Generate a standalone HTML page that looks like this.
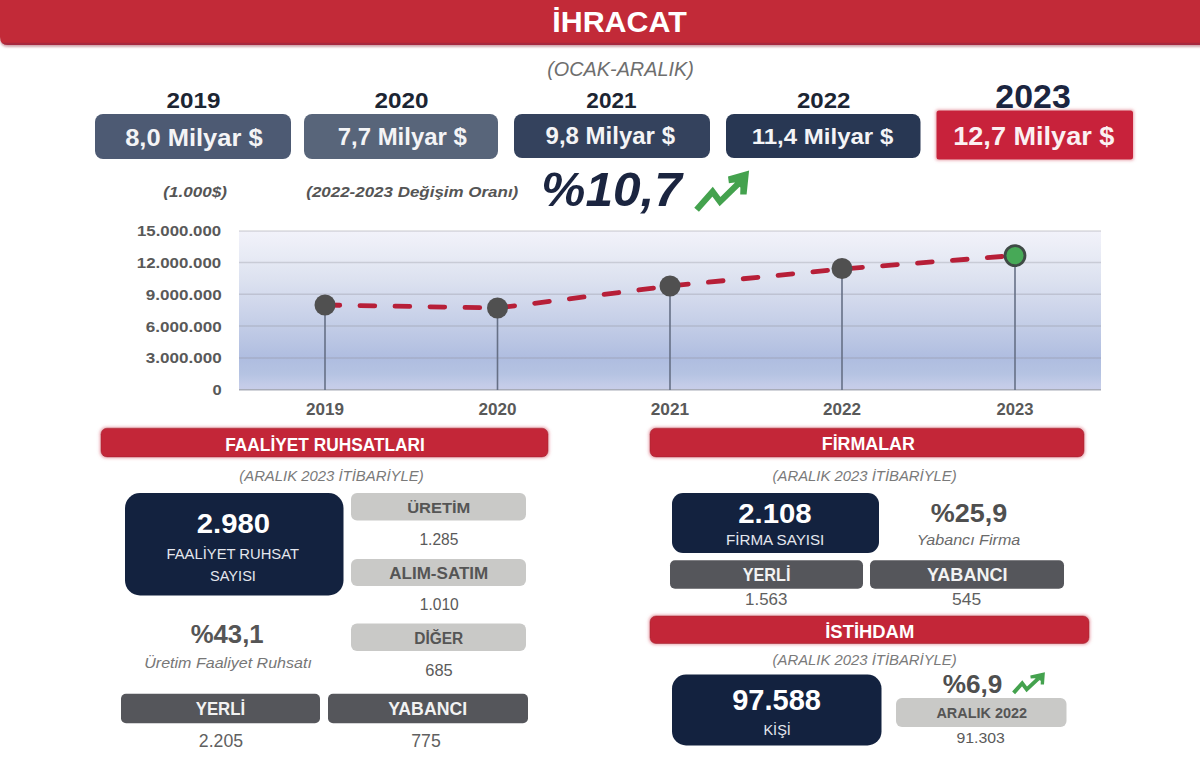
<!DOCTYPE html>
<html>
<head>
<meta charset="utf-8">
<style>
html,body{margin:0;padding:0;background:#fff;width:1200px;height:768px;overflow:hidden;}
svg{display:block;font-family:"Liberation Sans",sans-serif;}
</style>
</head>
<body>
<svg width="1200" height="768" viewBox="0 0 1200 768">
<defs>
  <linearGradient id="plotg" x1="0" y1="0" x2="0" y2="1">
    <stop offset="0" stop-color="#f2f2fa"/>
    <stop offset="0.15" stop-color="#e8ebf5"/>
    <stop offset="0.30" stop-color="#dde2f0"/>
    <stop offset="0.50" stop-color="#ccd4ea"/>
    <stop offset="0.70" stop-color="#b9c5e3"/>
    <stop offset="0.80" stop-color="#afbde0"/>
    <stop offset="0.90" stop-color="#b5c3e2"/>
    <stop offset="0.97" stop-color="#c4cce8"/>
    <stop offset="1" stop-color="#c8cde8"/>
  </linearGradient>
  <filter id="hdrsh" x="-1%" y="-20%" width="102%" height="160%">
    <feGaussianBlur in="SourceAlpha" stdDeviation="1.3"/>
    <feOffset dy="1.8" result="o"/>
    <feFlood flood-color="#a04858" flood-opacity="0.5"/>
    <feComposite operator="in" in2="o"/>
    <feMerge><feMergeNode/><feMergeNode in="SourceGraphic"/></feMerge>
  </filter>
  <clipPath id="hclip"><path d="M-10 -10 H1210 V45 H8 Q0 45 0 37 Z"/></clipPath>
  <filter id="rsh" x="-10%" y="-40%" width="120%" height="180%">
    <feMorphology in="SourceAlpha" operator="dilate" radius="1" result="d"/>
    <feGaussianBlur in="d" stdDeviation="1.4" result="bl"/>
    <feFlood flood-color="#d86070" flood-opacity="0.55"/>
    <feComposite operator="in" in2="bl"/>
    <feMerge><feMergeNode/><feMergeNode in="SourceGraphic"/></feMerge>
  </filter>
</defs>

<!-- HEADER -->
<path d="M-10 -10 H1210 V45 H8 Q0 45 0 37 Z" fill="#c22a39" filter="url(#hdrsh)"/>
<rect clip-path="url(#hclip)" x="0" y="42.8" width="1200" height="2.2" fill="#9c2a42" opacity="0.75"/>

<!-- YEAR BOXES -->
<rect x="95" y="114" width="196" height="45" rx="8" fill="#4d5a73"/>
<rect x="304" y="114" width="194" height="45" rx="8" fill="#58657a"/>
<rect x="514" y="114" width="196" height="44" rx="8" fill="#34425d"/>
<rect x="726" y="114" width="194.5" height="44" rx="8" fill="#283753"/>
<rect x="936.5" y="110.5" width="196.5" height="49" rx="2.5" fill="#c8233a" filter="url(#rsh)"/>

<!-- ARROW 1 -->
<polyline points="696.6,209.8 712.6,191.6 720,201.6 738.5,183.5" fill="none" stroke="#44a24e" stroke-width="6.2" stroke-linejoin="miter"/>
<polygon points="728,176.4 749.1,170.6 746.6,194.6 740.2,194.6 740.4,187.5 734.5,182.5 728.9,183.2" fill="#44a24e"/>

<!-- CHART -->
<rect x="239" y="231" width="862" height="159" fill="url(#plotg)"/>
<g stroke="#8f8f99" stroke-opacity="0.32" stroke-width="1.5">
  <line x1="239" y1="231" x2="1101" y2="231"/>
  <line x1="239" y1="262.5" x2="1101" y2="262.5"/>
  <line x1="239" y1="294.3" x2="1101" y2="294.3"/>
  <line x1="239" y1="326.1" x2="1101" y2="326.1"/>
  <line x1="239" y1="357.9" x2="1101" y2="357.9"/>
</g>
<line x1="239" y1="389.8" x2="1101" y2="389.8" stroke="#a8acb8" stroke-width="1.5"/>
<g stroke="#667086" stroke-width="1.6">
  <line x1="325" y1="305" x2="325" y2="390"/>
  <line x1="497.5" y1="308" x2="497.5" y2="390"/>
  <line x1="670" y1="286" x2="670" y2="390"/>
  <line x1="842" y1="269" x2="842" y2="390"/>
  <line x1="1015" y1="256" x2="1015" y2="390"/>
</g>
<polyline points="325,305 497.5,308 670,286 842,269 1015,255.5" fill="none" stroke="#b71f38" stroke-width="4.8" stroke-dasharray="14.75 20.25" stroke-linecap="round"/>
<g fill="#505050">
  <circle cx="325" cy="305" r="10.5"/>
  <circle cx="497.5" cy="308" r="10.5"/>
  <circle cx="670" cy="286" r="10.5"/>
  <circle cx="842" cy="268.5" r="10.5"/>
</g>
<circle cx="1015" cy="255.6" r="10" fill="#47a957" stroke="#3f4a46" stroke-width="2.8"/>

<!-- SECTION BARS -->
<g filter="url(#rsh)" stroke="#a01f2d" stroke-opacity="0.55" stroke-width="1">
  <rect x="101" y="428.2" width="447" height="28.7" rx="6" fill="#c32838"/>
  <rect x="650" y="428.2" width="434" height="28.7" rx="6" fill="#c32838"/>
  <rect x="650" y="616" width="439" height="27.5" rx="6" fill="#c32838"/>
</g>

<!-- LEFT PANEL -->
<rect x="125" y="493" width="218.5" height="102.5" rx="15" fill="#13223f"/>
<g fill="#c9c9c7">
  <rect x="351" y="493" width="175" height="27.5" rx="6"/>
  <rect x="351" y="559" width="175" height="27" rx="6"/>
  <rect x="351" y="623.5" width="175" height="27.5" rx="6"/>
</g>
<g fill="#55565b">
  <rect x="121" y="693.7" width="199" height="29.5" rx="5"/>
  <rect x="328" y="693.7" width="200" height="29.5" rx="5"/>
</g>

<!-- RIGHT PANEL -->
<rect x="672" y="493" width="207" height="60" rx="11" fill="#13223f"/>
<g fill="#55565b">
  <rect x="670" y="560.2" width="193" height="28.5" rx="5"/>
  <rect x="870" y="560.2" width="194" height="28.5" rx="5"/>
</g>
<rect x="672" y="674.6" width="209.5" height="70.8" rx="14" fill="#13223f"/>
<polyline points="1013.6,692.9 1022.2,683.3 1026.75,689.4 1038,678.8" fill="none" stroke="#44a24e" stroke-width="3.9" stroke-linejoin="miter"/>
<polygon points="1030.3,675.4 1044.9,672.2 1044,684.4 1040.7,684.4 1040.8,680.8 1034.6,678.3 1030.7,678.4" fill="#44a24e"/>
<rect x="896" y="698" width="170.5" height="29" rx="6" fill="#c9c9c7"/>

<text id="ihracat" x="619.50" y="31.6" text-anchor="middle" font-size="30.2" fill="#ffffff" style="font-weight:bold;" textLength="134.50" lengthAdjust="spacingAndGlyphs">İHRACAT</text>
<text id="ocak" x="620.50" y="76" text-anchor="middle" font-size="20" fill="#6e6e6e" style="font-style:italic;" textLength="146.50" lengthAdjust="spacingAndGlyphs">(OCAK-ARALIK)</text>
<text id="y2019" x="193.45" y="108.3" text-anchor="middle" font-size="22.6" fill="#1c2533" style="font-weight:bold;" textLength="53.80" lengthAdjust="spacingAndGlyphs">2019</text>
<text id="y2020" x="401.45" y="108.3" text-anchor="middle" font-size="22.6" fill="#1c2533" style="font-weight:bold;" textLength="54.00" lengthAdjust="spacingAndGlyphs">2020</text>
<text id="y2021" x="611.43" y="108.2" text-anchor="middle" font-size="22.6" fill="#1c2533" style="font-weight:bold;" textLength="50.15" lengthAdjust="spacingAndGlyphs">2021</text>
<text id="y2022" x="823.65" y="107.9" text-anchor="middle" font-size="22.6" fill="#1c2533" style="font-weight:bold;" textLength="53.40" lengthAdjust="spacingAndGlyphs">2022</text>
<text id="y2023" x="1033.05" y="107.6" text-anchor="middle" font-size="32.6" fill="#1b2540" style="font-weight:bold;" textLength="75.40" lengthAdjust="spacingAndGlyphs">2023</text>
<text id="b2019" x="193.90" y="145.9" text-anchor="middle" font-size="24.3" fill="#f4f4f6" style="font-weight:bold;" textLength="137.50" lengthAdjust="spacingAndGlyphs">8,0 Milyar $</text>
<text id="b2020" x="402.30" y="144.8" text-anchor="middle" font-size="23.9" fill="#f4f4f6" style="font-weight:bold;" textLength="129.10" lengthAdjust="spacingAndGlyphs">7,7 Milyar $</text>
<text id="b2021" x="610.27" y="144.1" text-anchor="middle" font-size="23.2" fill="#f4f4f6" style="font-weight:bold;" textLength="129.45" lengthAdjust="spacingAndGlyphs">9,8 Milyar $</text>
<text id="b2022" x="822.48" y="143.8" text-anchor="middle" font-size="22.8" fill="#f4f4f6" style="font-weight:bold;" textLength="141.55" lengthAdjust="spacingAndGlyphs">11,4 Milyar $</text>
<text id="b2023" x="1033.80" y="145.4" text-anchor="middle" font-size="25.6" fill="#fbf0f2" style="font-weight:bold;" textLength="161.10" lengthAdjust="spacingAndGlyphs">12,7 Milyar $</text>
<text id="k1000" x="195.10" y="196.7" text-anchor="middle" font-size="14.5" fill="#555555" style="font-weight:bold;font-style:italic;" textLength="63.50" lengthAdjust="spacingAndGlyphs">(1.000$)</text>
<text id="degisim" x="412.25" y="196.5" text-anchor="middle" font-size="14.4" fill="#555555" style="font-weight:bold;font-style:italic;" textLength="212.00" lengthAdjust="spacingAndGlyphs">(2022-2023 Değişim Oranı)</text>
<text id="p107" x="611.60" y="206.3" text-anchor="middle" font-size="48.3" fill="#1b2540" style="font-weight:bold;font-style:italic;" textLength="140.50" lengthAdjust="spacingAndGlyphs">%10,7</text>
<text id="ax15" x="179.05" y="236" text-anchor="middle" font-size="15.4" fill="#595959" style="font-weight:bold;" textLength="84.20" lengthAdjust="spacingAndGlyphs">15.000.000</text>
<text id="ax12" x="178.95" y="267.9" text-anchor="middle" font-size="15.4" fill="#595959" style="font-weight:bold;" textLength="84.40" lengthAdjust="spacingAndGlyphs">12.000.000</text>
<text id="ax9" x="183.75" y="299.8" text-anchor="middle" font-size="15.4" fill="#595959" style="font-weight:bold;" textLength="76.00" lengthAdjust="spacingAndGlyphs">9.000.000</text>
<text id="ax6" x="183.75" y="331.5" text-anchor="middle" font-size="15.4" fill="#595959" style="font-weight:bold;" textLength="76.00" lengthAdjust="spacingAndGlyphs">6.000.000</text>
<text id="ax3" x="183.80" y="363.2" text-anchor="middle" font-size="15.4" fill="#595959" style="font-weight:bold;" textLength="75.90" lengthAdjust="spacingAndGlyphs">3.000.000</text>
<text id="ax0" x="217.15" y="395" text-anchor="middle" font-size="15.4" fill="#595959" style="font-weight:bold;" textLength="9.20" lengthAdjust="spacingAndGlyphs">0</text>
<text id="xl2019" x="325.00" y="414.5" text-anchor="middle" font-size="15.7" fill="#595959" style="font-weight:bold;" textLength="38.00" lengthAdjust="spacingAndGlyphs">2019</text>
<text id="xl2020" x="497.50" y="414.5" text-anchor="middle" font-size="15.7" fill="#595959" style="font-weight:bold;" textLength="38.00" lengthAdjust="spacingAndGlyphs">2020</text>
<text id="xl2021" x="670.00" y="414.5" text-anchor="middle" font-size="15.7" fill="#595959" style="font-weight:bold;" textLength="38.50" lengthAdjust="spacingAndGlyphs">2021</text>
<text id="xl2022" x="842.00" y="414.5" text-anchor="middle" font-size="15.7" fill="#595959" style="font-weight:bold;" textLength="38.00" lengthAdjust="spacingAndGlyphs">2022</text>
<text id="xl2023" x="1015.00" y="414.5" text-anchor="middle" font-size="15.7" fill="#595959" style="font-weight:bold;" textLength="37.00" lengthAdjust="spacingAndGlyphs">2023</text>
<text id="faal" x="325.05" y="450.5" text-anchor="middle" font-size="18.4" fill="#ffffff" style="font-weight:bold;" textLength="199.60" lengthAdjust="spacingAndGlyphs">FAALİYET RUHSATLARI</text>
<text id="firm" x="868.25" y="450" text-anchor="middle" font-size="18.4" fill="#ffffff" style="font-weight:bold;" textLength="93.00" lengthAdjust="spacingAndGlyphs">FİRMALAR</text>
<text id="ist" x="869.75" y="637.5" text-anchor="middle" font-size="18.4" fill="#ffffff" style="font-weight:bold;" textLength="89.00" lengthAdjust="spacingAndGlyphs">İSTİHDAM</text>
<text id="aral1" x="331.45" y="481" text-anchor="middle" font-size="15.2" fill="#7a7a7a" style="font-style:italic;" textLength="184.40" lengthAdjust="spacingAndGlyphs">(ARALIK 2023 İTİBARİYLE)</text>
<text id="aral2" x="864.65" y="480.65" text-anchor="middle" font-size="15.2" fill="#7a7a7a" style="font-style:italic;" textLength="184.20" lengthAdjust="spacingAndGlyphs">(ARALIK 2023 İTİBARİYLE)</text>
<text id="aral3" x="864.65" y="664.6" text-anchor="middle" font-size="15.2" fill="#7a7a7a" style="font-style:italic;" textLength="184.20" lengthAdjust="spacingAndGlyphs">(ARALIK 2023 İTİBARİYLE)</text>
<text id="n2980" x="233.35" y="533.1" text-anchor="middle" font-size="27.4" fill="#ffffff" style="font-weight:bold;" textLength="73.20" lengthAdjust="spacingAndGlyphs">2.980</text>
<text id="fr" x="232.78" y="558.75" text-anchor="middle" font-size="14.8" fill="#e4e7ee" style="" textLength="132.45" lengthAdjust="spacingAndGlyphs">FAALİYET RUHSAT</text>
<text id="say" x="232.97" y="580.6" text-anchor="middle" font-size="14.8" fill="#e4e7ee" style="" textLength="45.95" lengthAdjust="spacingAndGlyphs">SAYISI</text>
<text id="uretim" x="438.75" y="512.9" text-anchor="middle" font-size="15.2" fill="#555555" style="font-weight:bold;" textLength="63.20" lengthAdjust="spacingAndGlyphs">ÜRETİM</text>
<text id="v1285" x="438.95" y="544.6" text-anchor="middle" font-size="16.2" fill="#5a5a5a" style="" textLength="39.00" lengthAdjust="spacingAndGlyphs">1.285</text>
<text id="alim" x="438.75" y="579" text-anchor="middle" font-size="15.6" fill="#555555" style="font-weight:bold;" textLength="99.00" lengthAdjust="spacingAndGlyphs">ALIM-SATIM</text>
<text id="v1010" x="439.25" y="609.5" text-anchor="middle" font-size="16.2" fill="#5a5a5a" style="" textLength="39.00" lengthAdjust="spacingAndGlyphs">1.010</text>
<text id="diger" x="438.75" y="644" text-anchor="middle" font-size="15.6" fill="#555555" style="font-weight:bold;" textLength="49.00" lengthAdjust="spacingAndGlyphs">DİĞER</text>
<text id="v685" x="439.00" y="675.5" text-anchor="middle" font-size="16.2" fill="#5a5a5a" style="" textLength="27.50" lengthAdjust="spacingAndGlyphs">685</text>
<text id="p431" x="227.15" y="642.5" text-anchor="middle" font-size="24.9" fill="#555555" style="font-weight:bold;" textLength="73.00" lengthAdjust="spacingAndGlyphs">%43,1</text>
<text id="ufr" x="228.05" y="667.5" text-anchor="middle" font-size="15.2" fill="#777777" style="font-style:italic;" textLength="167.60" lengthAdjust="spacingAndGlyphs">Üretim Faaliyet Ruhsatı</text>
<text id="yerli1" x="220.45" y="714.8" text-anchor="middle" font-size="18.4" fill="#f2f2f2" style="font-weight:bold;" textLength="49.40" lengthAdjust="spacingAndGlyphs">YERLİ</text>
<text id="yab1" x="427.65" y="715" text-anchor="middle" font-size="18.4" fill="#f2f2f2" style="font-weight:bold;" textLength="79.00" lengthAdjust="spacingAndGlyphs">YABANCI</text>
<text id="v2205" x="220.95" y="746.5" text-anchor="middle" font-size="18" fill="#606060" style="" textLength="44.20" lengthAdjust="spacingAndGlyphs">2.205</text>
<text id="v775" x="426.00" y="746.7" text-anchor="middle" font-size="18" fill="#606060" style="" textLength="29.50" lengthAdjust="spacingAndGlyphs">775</text>
<text id="n2108" x="774.90" y="523.2" text-anchor="middle" font-size="27.5" fill="#ffffff" style="font-weight:bold;" textLength="73.50" lengthAdjust="spacingAndGlyphs">2.108</text>
<text id="fs" x="775.15" y="545.2" text-anchor="middle" font-size="15.4" fill="#e4e7ee" style="" textLength="98.40" lengthAdjust="spacingAndGlyphs">FİRMA SAYISI</text>
<text id="p259" x="969.00" y="521.5" text-anchor="middle" font-size="25.8" fill="#4f4f4f" style="font-weight:bold;" textLength="76.50" lengthAdjust="spacingAndGlyphs">%25,9</text>
<text id="yf" x="968.50" y="545" text-anchor="middle" font-size="14.6" fill="#6a6a6a" style="font-style:italic;" textLength="103.50" lengthAdjust="spacingAndGlyphs">Yabancı Firma</text>
<text id="yerli2" x="766.60" y="581" text-anchor="middle" font-size="17.9" fill="#f2f2f2" style="font-weight:bold;" textLength="47.70" lengthAdjust="spacingAndGlyphs">YERLİ</text>
<text id="yab2" x="967.23" y="580.9" text-anchor="middle" font-size="17.9" fill="#f2f2f2" style="font-weight:bold;" textLength="80.55" lengthAdjust="spacingAndGlyphs">YABANCI</text>
<text id="v1563" x="766.20" y="604.7" text-anchor="middle" font-size="17" fill="#606060" style="" textLength="42.30" lengthAdjust="spacingAndGlyphs">1.563</text>
<text id="v545" x="966.55" y="605.1" text-anchor="middle" font-size="17" fill="#606060" style="" textLength="29.20" lengthAdjust="spacingAndGlyphs">545</text>
<text id="n97" x="776.55" y="710.1" text-anchor="middle" font-size="28.6" fill="#ffffff" style="font-weight:bold;" textLength="88.80" lengthAdjust="spacingAndGlyphs">97.588</text>
<text id="kisi" x="777.15" y="734.8" text-anchor="middle" font-size="15.2" fill="#e4e7ee" style="" textLength="27.40" lengthAdjust="spacingAndGlyphs">KİŞİ</text>
<text id="p69" x="972.50" y="692.5" text-anchor="middle" font-size="25.3" fill="#4f4f4f" style="font-weight:bold;" textLength="59.70" lengthAdjust="spacingAndGlyphs">%6,9</text>
<text id="ar22" x="981.80" y="717.6" text-anchor="middle" font-size="14.5" fill="#555555" style="font-weight:bold;" textLength="90.70" lengthAdjust="spacingAndGlyphs">ARALIK 2022</text>
<text id="v91" x="980.65" y="742.7" text-anchor="middle" font-size="15.5" fill="#5a5a5a" style="" textLength="48.40" lengthAdjust="spacingAndGlyphs">91.303</text>
</svg>
</body>
</html>
